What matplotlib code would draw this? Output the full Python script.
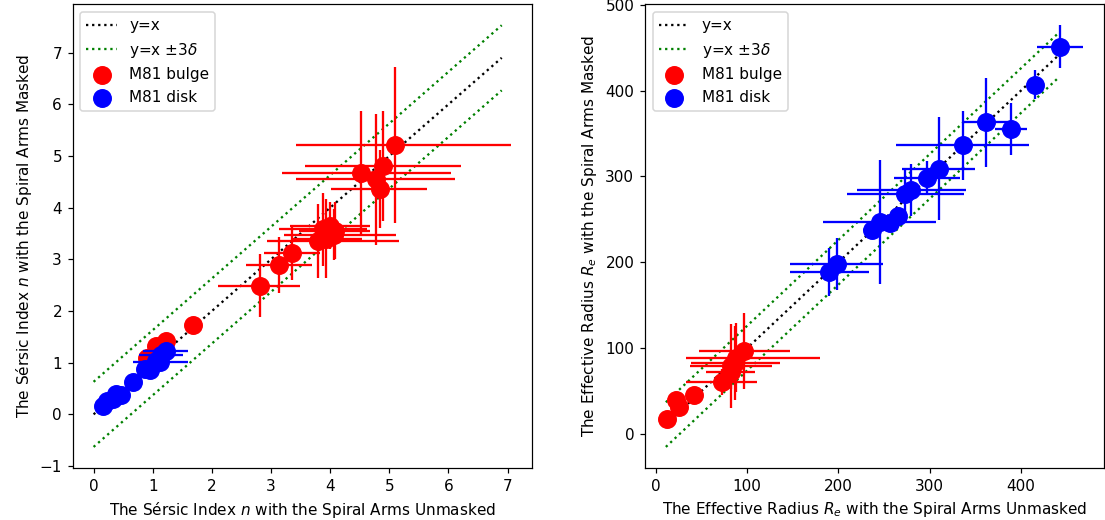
import matplotlib
matplotlib.use("Agg")
import matplotlib.pyplot as plt
import numpy as np

# ---------------- Sersic index n (left panel) ----------------
bulge_n_unmasked = [1.68, 1.22, 1.05, 0.91, 2.81, 3.14, 3.36, 3.80, 3.88, 3.93,
                    4.00, 4.06, 4.08, 4.52, 4.77, 4.84, 4.90, 5.09]
bulge_n_masked = [1.72, 1.42, 1.33, 1.09, 2.49, 2.89, 3.12, 3.36, 3.58, 3.40,
                  3.65, 3.48, 3.55, 4.68, 4.55, 4.36, 4.81, 5.22]
bulge_n_xerr_lo = [0, 0, 0, 0, 0.70, 0.56, 0.48, 0.87, 0.75, 0.60,
                   0.68, 0.84, 0.60, 1.33, 1.35, 0.82, 1.33, 1.66]
bulge_n_xerr_hi = [0, 0, 0, 0, 0.68, 0.56, 0.46, 1.36, 0.75, 0.60,
                   0.68, 1.06, 0.60, 1.52, 1.34, 0.79, 1.31, 1.97]
bulge_n_yerr = [0, 0, 0, 0, 0.61, 0.55, 0.52, 0.72, 0.70, 0.76,
                0.45, 0.50, 0.55, 1.19, 1.27, 0.75, 1.06, 1.51]

disk_n_unmasked = [0.16, 0.22, 0.33, 0.38, 0.47, 0.67, 0.87, 0.96, 1.05, 1.13, 1.14, 1.22]
disk_n_masked = [0.17, 0.26, 0.30, 0.40, 0.37, 0.63, 0.87, 0.85, 1.04, 1.02, 1.14, 1.23]
disk_n_xerr = [0, 0, 0, 0, 0, 0, 0.13, 0, 0, 0.47, 0.37, 0.38]
disk_n_yerr = [0, 0, 0, 0, 0, 0, 0.05, 0, 0.10, 0.05, 0.06, 0.06]

line_n = [0.0, 6.9]
delta3_n = 0.63

# ---------------- Effective radius Re (right panel) ----------------
bulge_re_unmasked = [12, 22, 25, 42, 72, 82, 82, 87, 88, 97]
bulge_re_masked = [17, 40, 31, 46, 61, 72, 79, 83, 89, 97]
bulge_re_xerr_lo = [0, 0, 0, 0, 39, 27, 45, 49, 55, 50]
bulge_re_xerr_hi = [0, 0, 0, 0, 39, 27, 45, 49, 92, 50]
bulge_re_yerr = [0, 0, 0, 0, 15, 20, 49, 43, 40, 44]

disk_re_unmasked = [190, 198, 237, 245, 257, 265, 273, 280, 297, 310, 336, 362, 389, 415, 443]
disk_re_masked = [189, 198, 237, 247, 246, 254, 280, 284, 298, 309, 336, 363, 355, 407, 451]
disk_re_xerr = [43, 51, 10, 62, 5, 10, 64, 60, 36, 40, 73, 26, 18, 0, 25]
disk_re_yerr = [28, 30, 8, 72, 8, 10, 27, 30, 20, 60, 40, 52, 30, 17, 25]

line_re = [11.0, 440.0]
delta3_re = 26.0

fig = plt.figure(figsize=(1105 / 110, 520 / 110), dpi=110)
ax1 = fig.add_axes([0.0658, 0.100, 0.4157, 0.892])
ax2 = fig.add_axes([0.5837, 0.100, 0.4154, 0.892])


def panel(ax, lx, d3, bx, by, bxlo, bxhi, bye, dx, dy, dxe, dye):
    lx = np.array(lx)
    ax.plot(lx, lx, ':', color='k', lw=1.5, label='y=x')
    ax.plot(lx, lx + d3, ':', color='g', lw=1.5, label=r'y=x $\pm 3\delta$')
    ax.plot(lx, lx - d3, ':', color='g', lw=1.5)
    ax.errorbar(bx, by, xerr=[bxlo, bxhi], yerr=bye, fmt='none',
                ecolor='r', elinewidth=1.5, capsize=0, zorder=2)
    ax.scatter(bx, by, s=130, c='r', label='M81 bulge', zorder=3)
    ax.errorbar(dx, dy, xerr=dxe, yerr=dye, fmt='none',
                ecolor='b', elinewidth=1.5, capsize=0, zorder=4)
    ax.scatter(dx, dy, s=130, c='b', label='M81 disk', zorder=5)
    ax.legend(loc='upper left')


panel(ax1, line_n, delta3_n, bulge_n_unmasked, bulge_n_masked, bulge_n_xerr_lo,
      bulge_n_xerr_hi, bulge_n_yerr, disk_n_unmasked, disk_n_masked, disk_n_xerr, disk_n_yerr)
panel(ax2, line_re, delta3_re, bulge_re_unmasked, bulge_re_masked, bulge_re_xerr_lo,
      bulge_re_xerr_hi, bulge_re_yerr, disk_re_unmasked, disk_re_masked, disk_re_xerr, disk_re_yerr)

ax1.set_xlabel(r'The Sérsic Index $n$ with the Spiral Arms Unmasked')
ax1.set_ylabel(r'The Sérsic Index $n$ with the Spiral Arms Masked')
ax2.set_xlabel(r'The Effective Radius $R_e$ with the Spiral Arms Unmasked')
ax2.set_ylabel(r'The Effective Radius $R_e$ with the Spiral Arms Masked')

fig.savefig('out.png', dpi=110)
